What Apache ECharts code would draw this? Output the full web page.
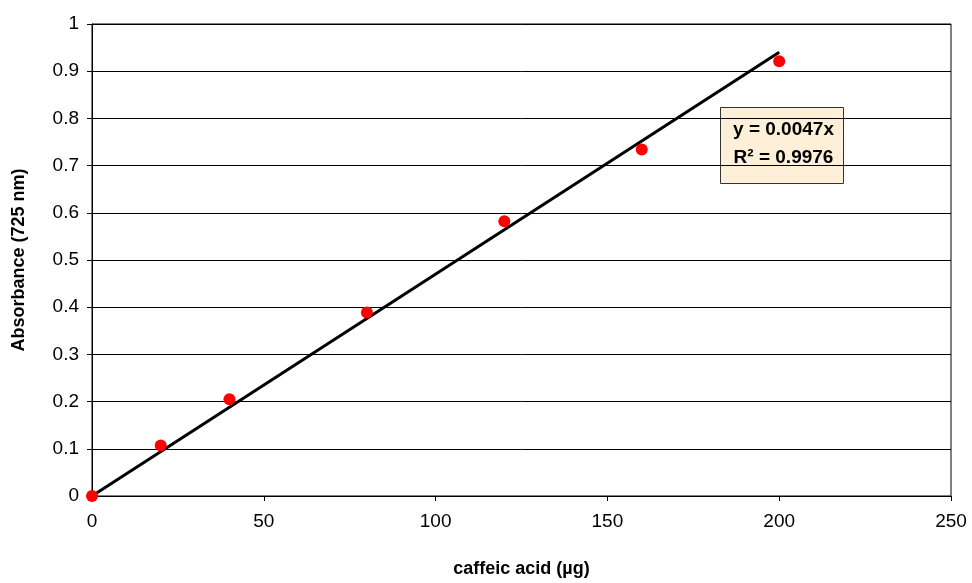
<!DOCTYPE html>
<html>
<head>
<meta charset="utf-8">
<script src="https://cdn.jsdelivr.net/npm/echarts@6/dist/echarts.min.js"></script>
<style>
  html, body { margin: 0; padding: 0; background: #fff; }
  #chart { width: 972px; height: 583px; }
</style>
</head>
<body>
<div id="chart"></div>
<script>
// Calibration data: caffeic acid amount vs. absorbance at 725 nm
const amountUg = [0, 20, 40, 80, 120, 160, 200];
const absorbance = [0, 0.107, 0.205, 0.389, 0.582, 0.734, 0.921];

// Linear fit through the origin
const slope = 0.0047;
const fitRange = [0, 200];
const rSquared = 0.9976;

const xTicks = [0, 50, 100, 150, 200, 250];
const yTicks = [0, 0.1, 0.2, 0.3, 0.4, 0.5, 0.6, 0.7, 0.8, 0.9, 1];

const font = '"Liberation Sans", Arial, sans-serif';

const chart = echarts.init(document.getElementById('chart'));

const grid = { left: 92, right: 21, top: 24, bottom: 85.5 };

chart.setOption({
  animation: false,
  backgroundColor: '#ffffff',
  grid: Object.assign({ show: true, borderColor: '#000', borderWidth: 1 }, grid),
  xAxis: {
    type: 'value',
    min: xTicks[0],
    max: xTicks[xTicks.length - 1],
    interval: 50,
    name: 'caffeic acid (µg)',
    nameLocation: 'middle',
    nameGap: 64,
    nameTextStyle: { fontFamily: font, fontSize: 18, fontWeight: 'bold', color: '#000' },
    axisLine: { lineStyle: { color: '#000', width: 1 } },
    axisTick: { show: true, length: 5, inside: false, lineStyle: { color: '#000' } },
    axisLabel: { fontFamily: font, fontSize: 19, color: '#000', margin: 16 },
    splitLine: { show: false }
  },
  yAxis: {
    type: 'value',
    min: yTicks[0],
    max: yTicks[yTicks.length - 1],
    interval: 0.1,
    name: 'Absorbance (725 nm)',
    nameLocation: 'middle',
    nameGap: 64,
    nameRotate: 90,
    nameTextStyle: { fontFamily: font, fontSize: 18, fontWeight: 'bold', color: '#000' },
    axisLine: { show: true, lineStyle: { color: '#000', width: 1 } },
    axisTick: { show: true, length: 5, lineStyle: { color: '#000' } },
    axisLabel: {
      fontFamily: font, fontSize: 19, color: '#000', margin: 13,
      formatter: v => String(Math.round(v * 10) / 10)
    },
    splitLine: { show: true, lineStyle: { color: '#000', width: 1 } }
  },
  series: [
    {
      name: 'fit',
      type: 'line',
      data: fitRange.map(x => [x, slope * x]),
      symbol: 'none',
      lineStyle: { color: '#000', width: 3 },
      z: 2
    },
    {
      name: 'measured',
      type: 'scatter',
      data: amountUg.map((x, i) => [x, absorbance[i]]),
      symbol: 'circle',
      symbolSize: 12,
      itemStyle: { color: '#ff0000', opacity: 1 },
      z: 3
    }
  ],
  graphic: [
    {
      type: 'group',
      left: 720,
      top: 107,
      children: [
        {
          type: 'rect',
          shape: { x: 0, y: 0, width: 123, height: 76 },
          style: { fill: '#fdefd8', stroke: '#333', lineWidth: 1 }
        },
        {
          type: 'text',
          style: {
            x: 63, y: 36,
            text: 'y = 0.' + String(slope).split('.')[1] + 'x\nR² = ' + rSquared,
            align: 'center', verticalAlign: 'middle',
            fontFamily: font, fontSize: 19, fontWeight: 'bold', fill: '#000', lineHeight: 28
          }
        }
      ]
    }
  ]
});
</script>
</body>
</html>
